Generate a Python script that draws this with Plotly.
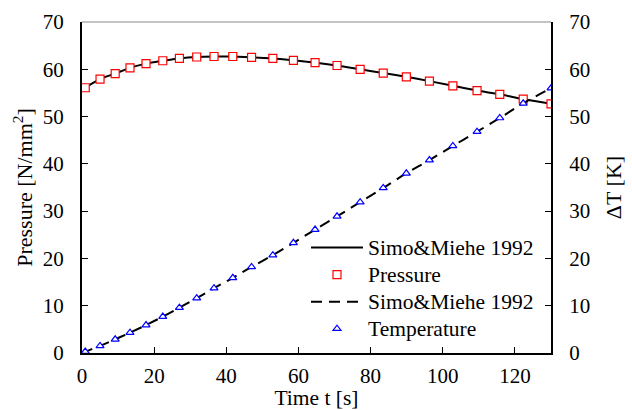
import plotly.graph_objects as go

# ---- data ----
time_s = [0.9, 5.0, 9.2, 13.3, 17.75, 22.4, 27.0, 31.8, 36.6, 41.8, 47.0, 52.9,
          58.6, 64.6, 70.7, 77.1, 83.5, 89.9, 96.3, 102.8, 109.5, 115.8, 122.3, 130.0]
pressure = [56.1, 57.9, 59.1, 60.3, 61.2, 61.8, 62.3, 62.6, 62.7, 62.7, 62.5, 62.3,
            61.9, 61.4, 60.8, 60.0, 59.2, 58.4, 57.5, 56.5, 55.5, 54.7, 53.7, 52.7]
temperature = [0.3, 1.5, 2.9, 4.3, 5.9, 7.7, 9.6, 11.6, 13.7, 15.9, 18.2, 20.7,
               23.3, 26.1, 28.9, 31.9, 34.9, 38.0, 40.8, 43.8, 46.8, 49.7, 52.8, 56.0]

ref_time = [0.0] + time_s
ref_pressure = [55.7] + pressure
ref_temperature = [0.0] + temperature

x_ticks = [0, 20, 40, 60, 80, 100, 120]
y_ticks = [0, 10, 20, 30, 40, 50, 60, 70]
legend_names = ["Simo&Miehe 1992", "Pressure", "Simo&Miehe 1992", "Temperature"]

FONT = "Liberation Serif, Times New Roman, serif"
W, H = 632, 410
L, R, T, B = 82, 81, 22, 57


def lg(name):
    return "<span style='font-size:21.5px'>" + name + "</span>"


fig = go.Figure()
fig.add_trace(go.Scatter(x=ref_time, y=ref_pressure, mode="lines", name=lg(legend_names[0]),
                         line=dict(color="black", width=2, shape="spline")))
fig.add_trace(go.Scatter(x=time_s, y=pressure, mode="markers", name=lg(legend_names[1]),
                         marker=dict(symbol="square", size=8, color="white",
                                     line=dict(color="#ff0000", width=1.2))))
fig.add_trace(go.Scatter(x=ref_time, y=ref_temperature, mode="lines", name=lg(legend_names[2]),
                         line=dict(color="black", width=2, dash="11px,7px", shape="spline"),
                         yaxis="y2"))
fig.add_trace(go.Scatter(x=time_s, y=temperature, mode="markers", name=lg(legend_names[3]),
                         marker=dict(symbol="triangle-up", size=7, color="white",
                                     line=dict(color="#0000ff", width=1.2)),
                         yaxis="y2"))

axis_common = dict(showgrid=False, zeroline=False, showline=True, linecolor="black",
                   linewidth=2, ticks="inside", ticklen=6, tickwidth=1, tickcolor="black",
                   automargin=False,
                   tickfont=dict(family=FONT, size=21, color="black"))

fig.update_layout(
    width=W, height=H,
    margin=dict(l=L, r=R, t=T, b=B, autoexpand=False),
    paper_bgcolor="white", plot_bgcolor="white",
    font=dict(family=FONT, size=21, color="black"),
    xaxis=dict(range=[0, 130], tickvals=x_ticks, ticklabelstandoff=3,
               title=dict(text="Time t [s]", font=dict(family=FONT, size=21.5), standoff=12),
               **axis_common),
    yaxis=dict(range=[0, 70], tickvals=y_ticks, ticklabelstandoff=12,
               title=dict(text="Pressure [N/mm<sup>2</sup>]", font=dict(family=FONT, size=22), standoff=4),
               **axis_common),
    yaxis2=dict(range=[0, 70], tickvals=y_ticks, overlaying="y", side="right", ticklabelstandoff=12,
                title=dict(text="ΔT [K]", font=dict(family=FONT, size=22), standoff=16),
                **axis_common),
    legend=dict(x=(306 - L) / (W - L - R), y=(H - B - 229) / (H - T - B),
                xanchor="left", yanchor="top", bgcolor="rgba(0,0,0,0)",
                font=dict(family=FONT, size=18.5), itemwidth=52, tracegroupgap=0),
    showlegend=True,
    shapes=[dict(type="line", xref="paper", yref="paper", x0=0, x1=1, y0=1, y1=1,
                 line=dict(color="#888888", width=1))],
)

fig.write_html("out.html")
